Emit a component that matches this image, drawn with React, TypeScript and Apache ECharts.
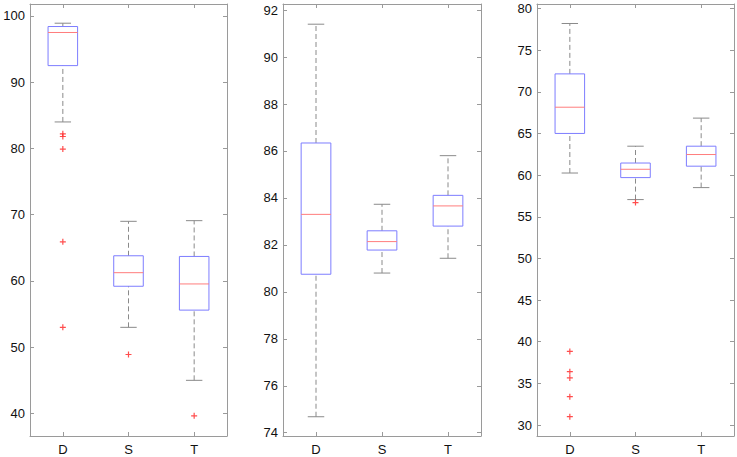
import React, { useEffect, useRef } from "react";
import * as echarts from "echarts";

const categories = ["D", "S", "T"];

// Each box: [lowerWhisker, q1, median, q3, upperWhisker]
const panel1Boxes = [
  [84.0, 92.5, 97.5, 98.4, 98.9],
  [53.0, 59.2, 61.25, 63.8, 69.0],
  [45.0, 55.6, 59.55, 63.7, 69.1],
];
const panel1Outliers = [
  [0, 82.2], [0, 81.8], [0, 79.9], [0, 65.9], [0, 53.0],
  [1, 48.9],
  [2, 39.65],
];

const panel2Boxes = [
  [74.68, 80.75, 83.3, 86.34, 91.4],
  [80.8, 81.78, 82.14, 82.6, 83.73],
  [81.43, 82.8, 83.66, 84.11, 85.8],
];
const panel2Outliers: number[][] = [];

const panel3Boxes = [
  [60.25, 65.0, 68.15, 72.15, 78.2],
  [57.06, 59.7, 60.7, 61.45, 63.47],
  [58.5, 61.07, 62.47, 63.47, 66.84],
];
const panel3Outliers = [
  [0, 38.83], [0, 36.4], [0, 35.65], [0, 33.4], [0, 31.0],
  [1, 56.7],
];

const yRanges = [
  [36.6, 101.8],
  [73.86, 92.26],
  [28.68, 80.54],
];
const yIntervals = [10, 2, 5];
const ySplits = [6, 9, 10];

const gridRects = [
  { left: 30, top: 4, width: 197, height: 432 },
  { left: 283, top: 4, width: 198, height: 432 },
  { left: 537, top: 4, width: 197, height: 432 },
];

const FRAME = "#9a9a9a";
const FONT = "'Liberation Sans', Arial, Helvetica, sans-serif";
const PLUS = "path://M2,0h1v2h2v1h-2v2h-1v-2h-2v-1h2z";

function renderBox(params: any, api: any) {
  const x = api.value(0);
  const lo = api.coord([x, api.value(1)]);
  const q1 = api.coord([x, api.value(2)]);
  const med = api.coord([x, api.value(3)]);
  const q3 = api.coord([x, api.value(4)]);
  const hi = api.coord([x, api.value(5)]);
  const band = api.size([1, 0])[0];
  const bw = band * 0.45;
  const cw = band * 0.25;
  const cx = q1[0];
  const dashed = { stroke: "#8a8a8a", lineWidth: 1, lineDash: [5, 3] };
  const solidGray = { stroke: "#8a8a8a", lineWidth: 1 };
  return {
    type: "group",
    children: [
      { type: "line", shape: { x1: cx, y1: q3[1], x2: cx, y2: hi[1] }, style: dashed },
      { type: "line", shape: { x1: cx, y1: lo[1], x2: cx, y2: q1[1] }, style: dashed },
      { type: "line", shape: { x1: cx - cw / 2, y1: hi[1], x2: cx + cw / 2, y2: hi[1] }, style: solidGray },
      { type: "line", shape: { x1: cx - cw / 2, y1: lo[1], x2: cx + cw / 2, y2: lo[1] }, style: solidGray },
      {
        type: "rect",
        shape: { x: cx - bw / 2, y: q3[1], width: bw, height: q1[1] - q3[1] },
        style: { fill: "none", stroke: "#7d7dff", lineWidth: 1 },
      },
      {
        type: "line",
        shape: { x1: cx - bw / 2, y1: med[1], x2: cx + bw / 2, y2: med[1] },
        style: { stroke: "#ff7d7d", lineWidth: 1 },
      },
    ],
  };
}

export default function App() {
  const ref = useRef<HTMLDivElement>(null);
  useEffect(() => {
    if (!ref.current) return;
    const chart = echarts.init(ref.current, undefined, { renderer: "svg" });
    const boxes = [panel1Boxes, panel2Boxes, panel3Boxes];
    const outliers = [panel1Outliers, panel2Outliers, panel3Outliers];

    const grid = gridRects.map((g) => ({ ...g, show: false, containLabel: false }));
    const xAxis: any[] = [];
    const yAxis: any[] = [];
    for (let side = 0; side < 2; side++) {
      for (let i = 0; i < 3; i++) {
        xAxis.push({
          type: "category",
          gridIndex: i,
          data: categories,
          position: side === 0 ? "bottom" : "top",
          boundaryGap: true,
          axisLine: { show: true, onZero: false, lineStyle: { color: FRAME, width: 1 } },
          axisTick: { show: true, inside: true, length: 4, alignWithLabel: true, lineStyle: { color: FRAME } },
          axisLabel: {
            show: side === 0,
            color: "#111",
            fontSize: 13,
            fontFamily: FONT,
            margin: 7,
          },
          splitLine: { show: false },
        });
        const interval = yIntervals[i];
        yAxis.push({
          type: "value",
          gridIndex: i,
          position: side === 0 ? "left" : "right",
          min: yRanges[i][0],
          max: yRanges[i][1],
          splitNumber: ySplits[i],
          axisLine: { show: true, onZero: false, lineStyle: { color: FRAME, width: 1 } },
          axisTick: { show: true, inside: true, length: 4, lineStyle: { color: FRAME } },
          axisLabel: {
            show: side === 0,
            color: "#111",
            fontSize: 13,
            fontFamily: FONT,
            margin: 5,
            formatter: (v: number) => {
              const r = v / interval;
              return Math.abs(r - Math.round(r)) < 1e-6 ? String(Math.round(v)) : "";
            },
          },
          splitLine: { show: false },
        });
      }
    }

    const series: any[] = [];
    for (let i = 0; i < 3; i++) {
      series.push({
        type: "custom",
        xAxisIndex: i,
        yAxisIndex: i,
        renderItem: renderBox,
        encode: { x: 0, y: [1, 2, 3, 4, 5] },
        data: boxes[i].map((b, k) => [k, ...b]),
        silent: true,
      });
      series.push({
        type: "scatter",
        xAxisIndex: i,
        yAxisIndex: i,
        symbol: PLUS,
        symbolSize: 6,
        itemStyle: { color: "#ff2020" },
        data: outliers[i],
        silent: true,
      });
    }

    chart.setOption({
      animation: false,
      backgroundColor: "#ffffff",
      grid,
      xAxis,
      yAxis,
      series,
    });
    return () => chart.dispose();
  }, []);
  return (
    <div
      ref={ref}
      style={{ position: "absolute", left: 0, top: 0, width: 737, height: 457 }}
    />
  );
}
